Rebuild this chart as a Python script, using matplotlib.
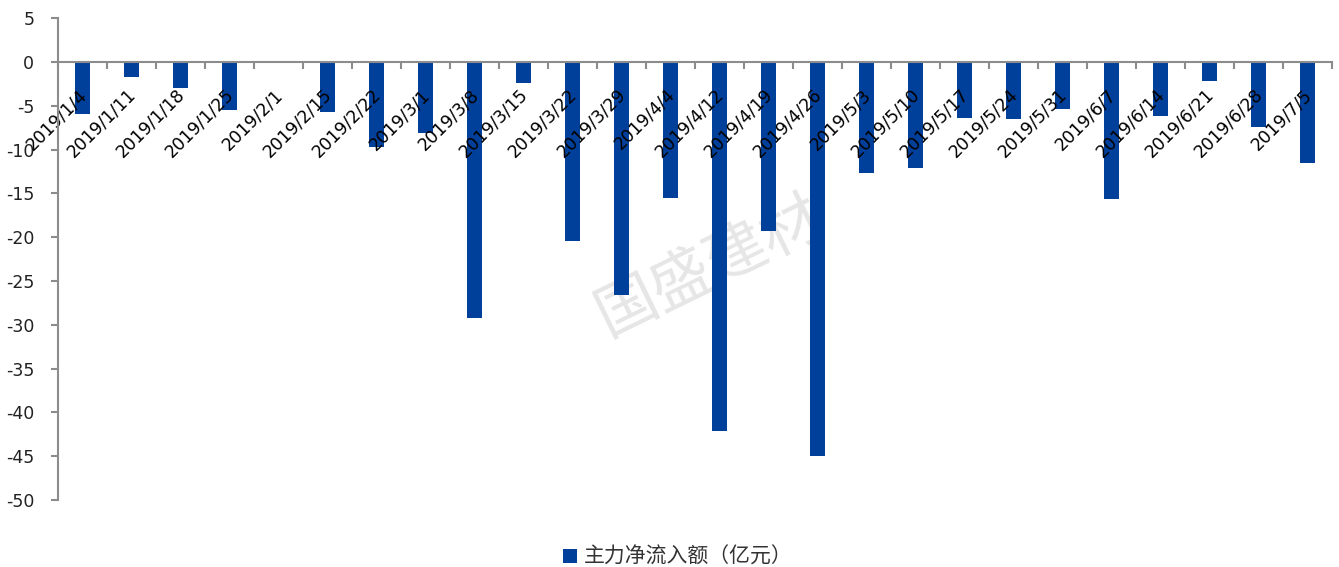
import numpy as np
import matplotlib
matplotlib.use('Agg')
import matplotlib.pyplot as plt
import matplotlib.transforms as mtransforms

plt.rcParams['font.family'] = ['DejaVu Sans', 'Noto Sans CJK SC']

#%% data
dates = ['2019/1/4', '2019/1/11', '2019/1/18', '2019/1/25', '2019/2/1',
         '2019/2/15', '2019/2/22', '2019/3/1', '2019/3/8', '2019/3/15',
         '2019/3/22', '2019/3/29', '2019/4/4', '2019/4/12', '2019/4/19',
         '2019/4/26', '2019/5/3', '2019/5/10', '2019/5/17', '2019/5/24',
         '2019/5/31', '2019/6/7', '2019/6/14', '2019/6/21', '2019/6/28',
         '2019/7/5']
net_inflow = [-5.9, -1.7, -3.0, -5.5, 0.0,
              -5.7, -9.7, -8.1, -29.2, -2.4,
              -20.4, -26.6, -15.5, -42.1, -19.3,
              -45.0, -12.7, -12.1, -6.4, -6.5,
              -5.4, -15.6, -6.2, -2.2, -7.4,
              -11.5]
series_name = '主力净流入额（亿元）'
y_ticks = list(range(-50, 6, 5))

#%% plot
blue = '#00409A'
axis_grey = '#8C8C8C'

fig = plt.figure(figsize=(13.39, 5.67), dpi=100)
ax = fig.add_axes([0.0433, 0.118, 0.9515, 0.850])

x = np.arange(len(dates))
ax.bar(x, net_inflow, width=0.31, color=blue, label=series_name, zorder=1)

ax.set_xlim(-0.5, len(dates) - 0.5)
ax.set_ylim(-50, 5)
ax.set_yticks(y_ticks)
ax.set_yticklabels([str(v) for v in y_ticks])

# boundaries get tick marks, centres get the labels
ax.set_xticks(x)
ax.set_xticklabels(dates)
ax.set_xticks(np.arange(-0.5, len(dates), 1.0), minor=True)
ax.tick_params(axis='x', which='major', length=0, pad=17, labelsize=12.5, labelcolor='black')
ax.tick_params(axis='x', which='minor', length=5, width=1.5, color=axis_grey, direction='out')
ax.tick_params(axis='y', which='major', length=5, width=1.5, color=axis_grey,
               labelsize=12.5, labelcolor='#222222', pad=12)

for s in ['top', 'right']:
    ax.spines[s].set_visible(False)
ax.spines['bottom'].set_position(('data', 0))
ax.spines['bottom'].set_color(axis_grey)
ax.spines['bottom'].set_linewidth(1.5)
ax.spines['left'].set_color(axis_grey)
ax.spines['left'].set_linewidth(1.5)

shift = mtransforms.ScaledTranslation(-5 / 100, 0, fig.dpi_scale_trans)
for tick in ax.xaxis.get_major_ticks():
    lab = tick.label1
    lab.set_rotation(45)
    lab.set_ha('right')
    lab.set_va('top')
    lab.set_rotation_mode('anchor')
    lab.set_transform(lab.get_transform() + shift)

# watermark, behind the bars
ax.text(0.53, 0.53, '国盛建材', transform=fig.transFigure, fontsize=44,
        color='#E6E6E6', rotation=26, ha='center', va='center',
        family=['Noto Sans CJK SC'], zorder=0)

leg = fig.legend(loc='lower center', bbox_to_anchor=(0.506, -0.035), frameon=False,
                 handlelength=0.7, handleheight=0.7, handletextpad=0.3,
                 prop={'family': ['Noto Sans CJK SC'], 'size': 15})
for t in leg.get_texts():
    t.set_color('#333333')

fig.savefig('out.png', dpi=100)
